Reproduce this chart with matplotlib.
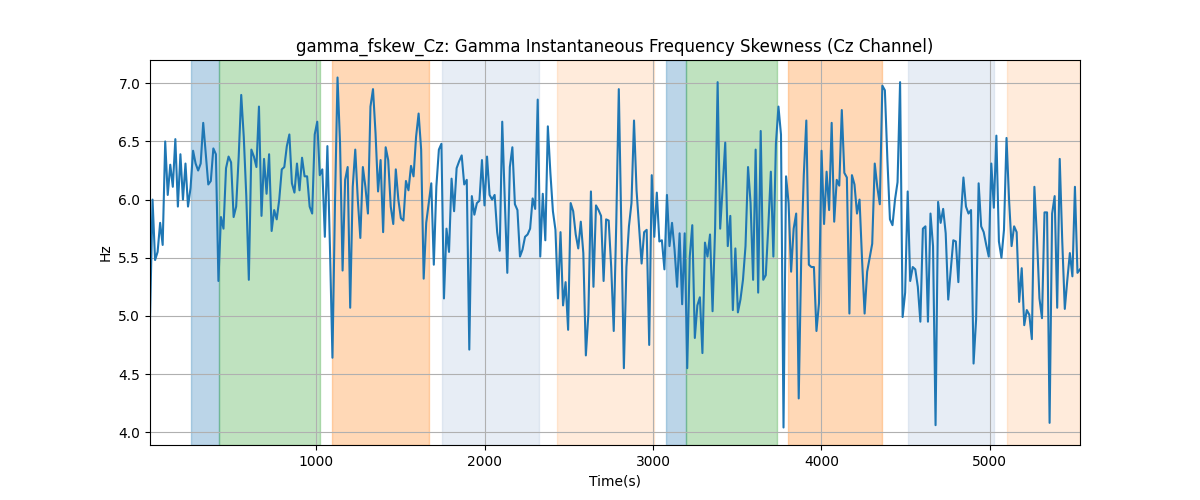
import numpy as np
import matplotlib
matplotlib.use("Agg")
import matplotlib.pyplot as plt

t_start, t_end = 12, 5536

values = [
    4.97, 6.00, 5.48, 5.55, 5.80, 5.61, 6.50, 6.04, 6.30, 6.11,
    6.52, 5.94, 6.39, 6.00, 6.31, 5.94, 6.10, 6.42, 6.31, 6.25,
    6.31, 6.66, 6.40, 6.13, 6.16, 6.44, 6.39, 5.30, 5.85, 5.75,
    6.27, 6.37, 6.32, 5.85, 5.94, 6.37, 6.90, 6.54, 6.03, 5.31,
    6.43, 6.37, 6.28, 6.80, 5.86, 6.35, 6.05, 6.39, 5.73, 5.91,
    5.83, 6.00, 6.26, 6.28, 6.46, 6.56, 6.14, 6.06, 6.31, 6.08,
    6.36, 6.20, 6.20, 5.94, 5.88, 6.56, 6.67, 6.21, 6.26, 5.68,
    6.46, 5.60, 4.64, 5.97, 7.05, 6.48, 5.39, 6.17, 6.28, 5.07,
    6.11, 6.43, 6.00, 5.67, 6.28, 6.11, 5.88, 6.80, 6.95, 6.57,
    6.07, 6.34, 5.72, 6.45, 6.34, 5.94, 5.79, 6.26, 6.00, 5.84,
    5.82, 6.16, 6.08, 6.29, 6.20, 6.54, 6.74, 6.43, 5.32, 5.80,
    5.97, 6.14, 5.44, 6.11, 6.43, 6.48, 5.15, 5.75, 5.55, 6.18,
    5.90, 6.27, 6.33, 6.38, 6.13, 6.17, 4.71, 6.03, 5.87, 5.97,
    5.99, 6.34, 5.95, 6.37, 6.04, 6.00, 6.04, 5.72, 5.56, 6.67,
    6.00, 5.37, 6.28, 6.45, 5.96, 5.91, 5.51, 5.57, 5.68, 5.70,
    5.75, 6.01, 5.92, 6.86, 5.51, 6.05, 5.65, 6.63, 6.23, 5.90,
    5.74, 5.15, 5.72, 5.09, 5.29, 4.88, 5.97, 5.90, 5.70, 5.58,
    5.81, 5.54, 4.66, 5.02, 6.07, 5.25, 5.95, 5.91, 5.86, 5.30,
    5.83, 5.82, 5.42, 4.87, 5.80, 6.95, 5.77, 4.55, 5.42, 5.77,
    5.97, 6.68, 6.08, 5.77, 5.45, 5.72, 5.74, 4.75, 6.21, 5.68,
    6.06, 5.64, 5.65, 5.40, 6.04, 5.60, 5.80, 5.57, 5.25, 5.71,
    5.10, 5.71, 4.55, 5.51, 5.78, 4.81, 5.09, 5.16, 4.68, 5.63,
    5.51, 5.70, 5.04, 5.75, 7.01, 5.75, 6.11, 6.49, 5.60, 5.86,
    5.05, 5.58, 5.03, 5.14, 5.31, 5.60, 6.28, 5.97, 5.31, 6.43,
    5.20, 6.59, 5.31, 5.35, 5.77, 6.24, 5.51, 6.48, 6.80, 6.56,
    4.04, 6.20, 5.97, 5.38, 5.75, 5.88, 4.29, 5.51, 6.21, 6.68,
    5.44, 5.42, 5.42, 4.87, 5.11, 6.42, 5.79, 6.24, 5.91, 6.66,
    5.81, 6.17, 6.12, 6.77, 6.23, 6.19, 5.02, 6.21, 6.13, 5.88,
    6.00, 5.48, 5.02, 5.38, 5.50, 5.62, 6.31, 6.11, 5.96, 6.98,
    6.94, 6.34, 5.83, 5.78, 6.00, 6.15, 7.01, 4.99, 5.20, 6.07,
    5.30, 5.42, 5.40, 5.25, 4.95, 5.75, 5.77, 4.95, 5.88, 5.60,
    4.06, 5.98, 5.80, 5.92, 5.71, 5.14, 5.40, 5.65, 5.64, 5.29,
    5.85, 6.19, 5.94, 5.88, 5.91, 4.59, 4.97, 6.14, 5.77, 5.72,
    5.61, 5.51, 6.31, 5.93, 6.55, 5.64, 5.50, 5.74, 6.53, 6.00,
    5.60, 5.77, 5.72, 5.12, 5.41, 4.92, 5.05, 5.01, 4.80, 6.11,
    5.68, 5.15, 4.98, 5.89, 5.89, 4.08, 5.88, 6.03, 5.07, 6.35,
    5.64, 5.06, 5.31, 5.54, 5.34, 6.11, 5.37, 5.40,
]
times = np.linspace(t_start, t_end, len(values))

span_starts = [256, 423, 1095, 1744, 2429, 3077, 3196, 3804, 4512, 5101]
span_ends = [423, 1024, 1667, 2321, 3006, 3196, 3738, 4357, 5024, 5536]
span_colors = ["tab:blue", "tab:green", "tab:orange", "lightsteelblue", "tab:orange",
               "tab:blue", "tab:green", "tab:orange", "lightsteelblue", "tab:orange"]
span_alphas = [0.3, 0.3, 0.3, 0.3, 0.15, 0.3, 0.3, 0.3, 0.3, 0.15]

fig, ax = plt.subplots(figsize=(12, 5), dpi=100)
for s, e, c, a in zip(span_starts, span_ends, span_colors, span_alphas):
    ax.axvspan(s, e, color=c, alpha=a)
ax.plot(times, values, color="tab:blue", linewidth=1.5)
ax.set_xlim(times[0], times[-1])
ax.grid(True)
ax.set_title("gamma_fskew_Cz: Gamma Instantaneous Frequency Skewness (Cz Channel)")
ax.set_xlabel("Time(s)")
ax.set_ylabel("Hz")
fig.savefig("out.png", dpi=100)
